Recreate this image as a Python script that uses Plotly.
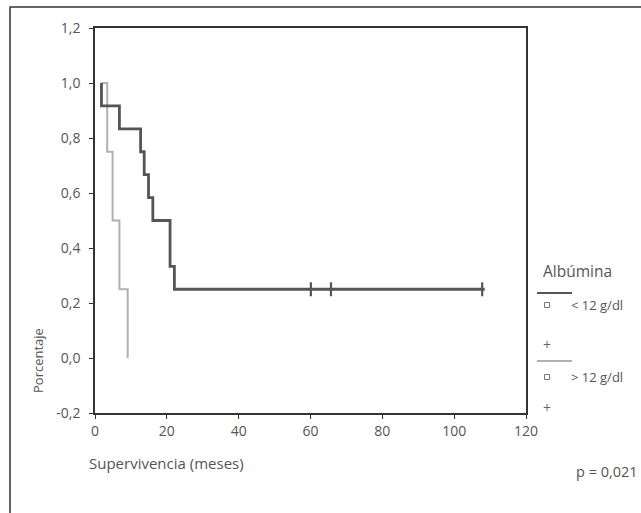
import plotly.graph_objects as go

# ---- data ----
low_times = [1.8, 1.8, 6.8, 12.7, 13.7, 14.9, 16.1, 20.9, 22.1, 108.5]
low_surv = [1.0, 0.917, 0.833, 0.75, 0.667, 0.583, 0.5, 0.333, 0.25, 0.25]
low_cens_times = [60.1, 65.7, 107.8]
low_cens_surv = [0.25, 0.25, 0.25]

high_times = [1.8, 3.4, 4.9, 6.8, 9.1]
high_surv = [1.0, 0.75, 0.5, 0.25, 0.0]

x_ticks = [0, 20, 40, 60, 80, 100, 120]
y_ticks = [-0.2, 0.0, 0.2, 0.4, 0.6, 0.8, 1.0, 1.2]
y_tick_text = ["-0,2", "0,0", "0,2", "0,4", "0,6", "0,8", "1,0", "1,2"]

legend_title = "Albúmina"
legend_labels = ["< 12 g/dl", "> 12 g/dl"]
p_text = "p = 0,021"

DARK = "#555555"
LIGHT = "#b0b0b0"
TXT = "#555555"
FONT = "Open Sans"

fig = go.Figure()
fig.add_trace(go.Scatter(x=high_times, y=high_surv, mode="lines", line_shape="hv",
                         line=dict(color=LIGHT, width=2), showlegend=False, hoverinfo="skip"))
fig.add_trace(go.Scatter(x=low_times, y=low_surv, mode="lines", line_shape="hv",
                         line=dict(color=DARK, width=2.8), showlegend=False, hoverinfo="skip"))
fig.add_trace(go.Scatter(x=low_cens_times, y=low_cens_surv, mode="markers",
                         marker=dict(symbol="line-ns", size=10, line=dict(color=DARK, width=2.2)),
                         showlegend=False, hoverinfo="skip"))

W, H = 641, 513
L, R, T, B = 95, 526, 28, 413

def px(x):
    return (x - L) / (R - L)

def py(y):
    return (B - y) / (B - T)

shapes = []
# outer frame
shapes.append(dict(type="rect", xref="paper", yref="paper",
                   x0=px(10), x1=px(700), y0=py(7), y1=py(560),
                   line=dict(color="#333333", width=1.5), layer="below"))
# legend lines
shapes.append(dict(type="line", xref="paper", yref="paper", x0=px(537), x1=px(572),
                   y0=py(293), y1=py(293), line=dict(color=DARK, width=2)))
shapes.append(dict(type="line", xref="paper", yref="paper", x0=px(537), x1=px(572),
                   y0=py(361), y1=py(361), line=dict(color=LIGHT, width=2)))
# legend squares
for cy in (305, 377):
    shapes.append(dict(type="rect", xref="paper", yref="paper",
                       x0=px(544.5), x1=px(549.5), y0=py(cy + 2.5), y1=py(cy - 2.5),
                       line=dict(color="#777777", width=1)))

ann = []
ann.append(dict(text=legend_title, x=px(541), y=py(271), xref="paper", yref="paper",
                xanchor="left", yanchor="middle", showarrow=False,
                font=dict(family=FONT, size=15.5, color=TXT)))
for lab, cy in zip(legend_labels, (305, 377)):
    ann.append(dict(text=lab, x=px(569), y=py(cy), xref="paper", yref="paper",
                    xanchor="left", yanchor="middle", showarrow=False,
                    font=dict(family=FONT, size=13, color=TXT)))
for cy in (344, 407):
    ann.append(dict(text="+", x=px(547), y=py(cy), xref="paper", yref="paper",
                    xanchor="center", yanchor="middle", showarrow=False,
                    font=dict(family=FONT, size=14, color="#666666")))
ann.append(dict(text="Supervivencia (meses)", x=px(87), y=py(463), xref="paper", yref="paper",
                xanchor="left", yanchor="middle", showarrow=False,
                font=dict(family=FONT, size=15, color=TXT)))
ann.append(dict(text="Porcentaje", x=px(38), y=py(360), xref="paper", yref="paper",
                xanchor="center", yanchor="middle", showarrow=False, textangle=-90,
                font=dict(family=FONT, size=13, color=TXT)))
ann.append(dict(text=p_text, x=px(574), y=py(471), xref="paper", yref="paper",
                xanchor="left", yanchor="middle", showarrow=False,
                font=dict(family=FONT, size=14.5, color=TXT)))

axis_common = dict(showgrid=False, zeroline=False, showline=True, linecolor="#333333",
                   linewidth=1.5, mirror=True, ticks="outside", ticklen=4, tickwidth=1.2,
                   tickcolor="#333333", tickfont=dict(family=FONT, size=14, color=TXT))

fig.update_layout(
    width=W, height=H,
    margin=dict(l=L, r=W - R, t=T, b=H - B, autoexpand=False),
    paper_bgcolor="white", plot_bgcolor="white",
    xaxis=dict(range=[0, 120], tickvals=x_ticks, **axis_common),
    yaxis=dict(range=[-0.2, 1.2], tickvals=y_ticks, ticktext=y_tick_text,
               ticklabelstandoff=6, **axis_common),
    shapes=shapes, annotations=ann, showlegend=False,
)

fig.write_html("out.html", config={"displayModeBar": False},
               post_script="document.body.style.margin='0';")
